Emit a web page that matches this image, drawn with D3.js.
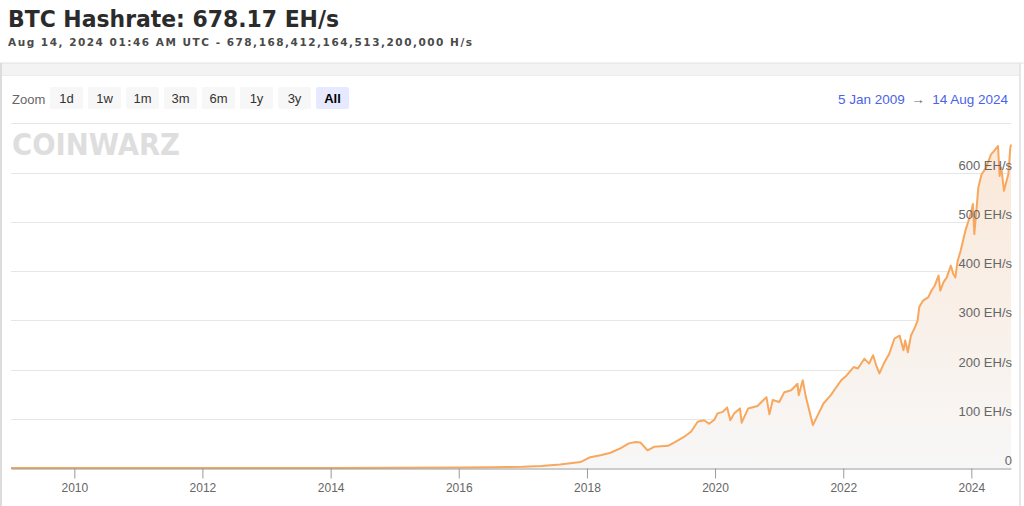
<!DOCTYPE html>
<html><head><meta charset="utf-8">
<script src="https://cdn.jsdelivr.net/npm/d3@7"></script>
<style>
html,body{margin:0;padding:0;background:#fff;overflow:hidden;}
svg{display:block;font-family:"Liberation Sans",Arial,sans-serif;}
</style></head>
<body>
<svg id="c" width="1024" height="506"></svg>
<script>
// ---- data ----
const dates = [
"2009-01-05","2010-01-01","2011-01-01","2012-01-01","2013-01-01","2014-01-01","2015-01-01","2016-01-01","2016-07-01","2017-01-01","2017-04-15","2017-08-01","2017-11-25",
"2018-01-20","2018-03-20","2018-05-15","2018-07-10","2018-08-28","2018-10-05","2018-11-01","2018-12-12",
"2019-01-18","2019-04-08","2019-05-20","2019-07-08","2019-08-18","2019-09-24","2019-10-30","2019-11-28","2019-12-28",
"2020-01-15","2020-02-14","2020-03-10","2020-03-28","2020-04-20","2020-05-22","2020-06-01","2020-07-08","2020-08-30","2020-10-20","2020-11-06","2020-11-25",
"2021-01-01","2021-01-30","2021-03-10","2021-04-15","2021-04-22","2021-05-15","2021-06-02","2021-07-12","2021-08-08","2021-09-10","2021-10-22","2021-11-20","2021-12-20",
"2022-01-20","2022-03-01","2022-03-25","2022-05-01","2022-05-28","2022-06-20","2022-07-08","2022-07-26","2022-08-20","2022-09-20","2022-10-20","2022-11-18","2022-12-10","2022-12-20",
"2023-01-04","2023-01-22","2023-02-14","2023-03-01","2023-03-10","2023-04-01","2023-05-01","2023-05-18","2023-06-06","2023-06-28","2023-07-08","2023-07-26","2023-08-14","2023-09-06","2023-09-20","2023-10-02","2023-10-15","2023-11-01","2023-11-28","2023-12-16",
"2024-01-01","2024-01-10","2024-01-18","2024-02-10","2024-02-28","2024-03-25","2024-04-22","2024-05-10","2024-06-01","2024-06-10","2024-06-20","2024-07-05","2024-07-30","2024-08-10","2024-08-14"
];
const hashrate = [
0,0,0,0.01,0.02,0.01,0.3,0.8,1.5,2.5,4,7,12,
22,26,31,40,50,53,52,36,
43,45,53,63,74,94,97,90,98,
111,114,123,97,111,121,92,121,126,144,109,138,
134,154,158,171,148,178,144,87,107,131,148,163,178,
188,205,202,222,212,229,208,192,212,232,263,269,239,259,
235,269,286,300,327,340,347,360,370,391,360,377,387,411,394,387,421,441,482,502,
522,536,475,570,596,610,637,644,654,593,610,563,597,650,657
];
const yTicks = [0,100,200,300,400,500,600,700];
const xTickYears = [2010,2012,2014,2016,2018,2020,2022,2024];
const zoomButtons = ["1d","1w","1m","3m","6m","1y","3y","All"];
const titleText = "BTC Hashrate: 678.17 EH/s";
const subtitleText = "Aug 14, 2024 01:46 AM UTC  -  678,168,412,164,513,200,000 H/s";
const rangeFrom = "5 Jan 2009", rangeTo = "14 Aug 2024";

// ---- drawing ----
const svg = d3.select("#c");
const parse = d3.utcParse("%Y-%m-%d");
const data = dates.map((d,i)=>({t:parse(d), v:hashrate[i]}));

const x = d3.scaleUtc().domain([parse("2009-01-05"), parse("2024-08-14")]).range([11, 1011]);
const y = d3.scaleLinear().domain([0,700]).range([468, 123.3]);

// header
svg.append("text").attr("x",8).attr("y",27).text(titleText)
  .attr("font-size",23).attr("font-weight","bold").attr("fill","#2b2b2b")
  .attr("font-family","'DejaVu Sans',sans-serif").attr("textLength",331).attr("lengthAdjust","spacingAndGlyphs");
svg.append("text").attr("x",8).attr("y",46).text(subtitleText)
  .attr("font-size",10.5).attr("font-weight","bold").attr("fill","#4a4a4a")
  .attr("font-family","'DejaVu Sans',sans-serif").attr("textLength",464).attr("lengthAdjust","spacing");

// container
svg.append("rect").attr("x",1).attr("y",63).attr("width",1019).attr("height",12).attr("fill","#f3f3f3");
svg.append("line").attr("x1",0).attr("x2",1024).attr("y1",63).attr("y2",63).attr("stroke","#e2e2e2");
svg.append("line").attr("x1",1).attr("x2",1020).attr("y1",75.5).attr("y2",75.5).attr("stroke","#ececec");
svg.append("line").attr("x1",1).attr("x2",1).attr("y1",63).attr("y2",506).attr("stroke","#dcdcdc").attr("stroke-width",2);
svg.append("line").attr("x1",1020).attr("x2",1020).attr("y1",63).attr("y2",506).attr("stroke","#e6e6e6").attr("stroke-width",2);

// range selector
svg.append("text").attr("x",12).attr("y",104).text("Zoom").attr("font-size",13).attr("fill","#666");
const bw = 33, bstep = 38, bx0 = 50;
const btn = svg.append("g").selectAll("g").data(zoomButtons).join("g")
  .attr("transform",(d,i)=>`translate(${bx0+i*bstep},87)`);
btn.append("rect").attr("width",bw).attr("height",22).attr("rx",2)
  .attr("fill",d=>d==="All"?"#e6e9ff":"#f7f7f7");
btn.append("text").attr("x",bw/2).attr("y",16).attr("text-anchor","middle").text(d=>d)
  .attr("font-size",13).attr("fill",d=>d==="All"?"#000":"#333").attr("font-weight",d=>d==="All"?"bold":"normal");

svg.append("text").attr("x",838).attr("y",104).attr("font-size",13.5).attr("fill","#4a63e8").text(rangeFrom);
svg.append("text").attr("x",918).attr("y",104).attr("text-anchor","middle").attr("font-size",13.5).attr("fill","#666").text("\u2192");
svg.append("text").attr("x",1008).attr("y",104).attr("text-anchor","end").attr("font-size",13.5).attr("fill","#4a63e8").text(rangeTo);

// watermark
svg.append("text").attr("x",12).attr("y",155).text("COINWARZ")
  .attr("font-family","'DejaVu Sans',sans-serif").attr("font-weight","bold").attr("font-size",31)
  .attr("fill","#dedede").attr("textLength",168).attr("lengthAdjust","spacingAndGlyphs");

// gridlines
svg.append("g").selectAll("line").data(yTicks.filter(d=>d>0)).join("line")
  .attr("x1",11).attr("x2",1011).attr("y1",d=>Math.round(y(d))+0.5).attr("y2",d=>Math.round(y(d))+0.5)
  .attr("stroke","#e6e6e6");

// area gradient
const defs = svg.append("defs");
const grad = defs.append("linearGradient").attr("id","ag").attr("gradientUnits","userSpaceOnUse")
  .attr("x1",0).attr("y1",140).attr("x2",0).attr("y2",468);
grad.append("stop").attr("offset",0).attr("stop-color","#fbe8d8");
grad.append("stop").attr("offset",1).attr("stop-color","#f7f7f7");

svg.append("path").datum(data)
  .attr("d",d3.area().x(d=>x(d.t)).y0(y(0)).y1(d=>y(d.v)))
  .attr("fill","url(#ag)");
svg.append("path").datum(data)
  .attr("d",d3.line().x(d=>x(d.t)).y(d=>y(d.v)))
  .attr("fill","none").attr("stroke","#f7a85e").attr("stroke-width",2).attr("stroke-linejoin","round");

// y labels
svg.append("g").selectAll("text").data(yTicks.filter(d=>d<700)).join("text")
  .attr("x",1012).attr("y",d=>y(d)-3).attr("text-anchor","end")
  .attr("font-size",13).attr("fill","#666")
  .text(d=>d===0?"0":d+" EH/s");

// x axis
const xAxis = d3.axisBottom(x).tickValues(xTickYears.map(yr=>new Date(Date.UTC(yr,0,1))))
  .tickFormat(d3.utcFormat("%Y")).tickSize(10).tickSizeOuter(0);
const gx = svg.append("g").attr("transform","translate(0,468.5)").call(xAxis);
gx.select(".domain").attr("stroke","#999");
gx.selectAll(".tick line").attr("stroke","#999");
gx.selectAll(".tick text").attr("font-size",12).attr("fill","#666").attr("dy","0.9em")
  .attr("font-family","'Liberation Sans',Arial,sans-serif");
</script>
</body></html>
